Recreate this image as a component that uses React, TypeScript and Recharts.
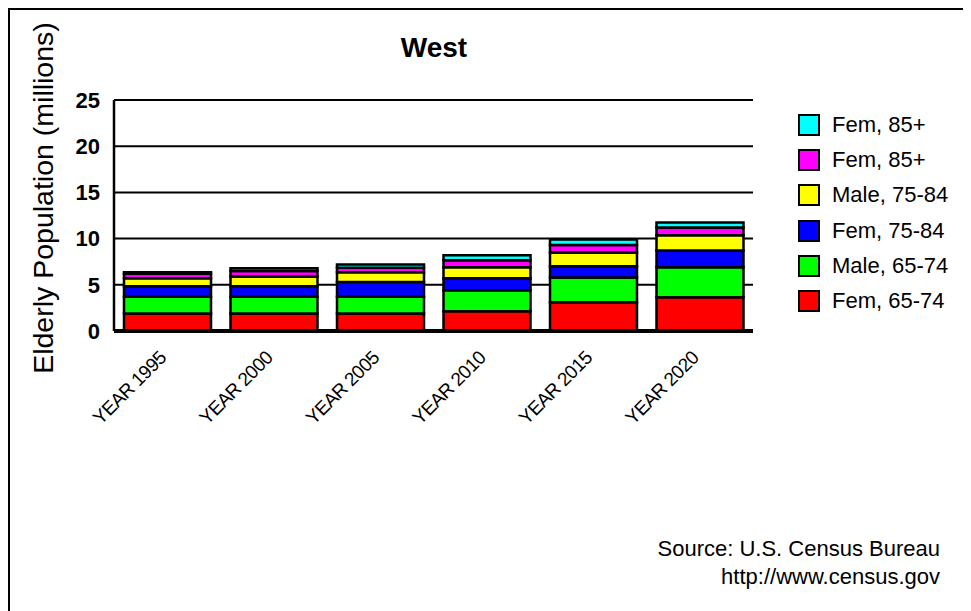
import React from "react";
import { BarChart, Bar, XAxis, YAxis, CartesianGrid } from "recharts";

const years = ["YEAR 1995", "YEAR 2000", "YEAR 2005", "YEAR 2010", "YEAR 2015", "YEAR 2020"];
const fem6574 = [1.9, 1.9, 1.9, 2.15, 3.1, 3.65];
const male6574 = [1.8, 1.8, 1.8, 2.25, 2.7, 3.25];
const fem7584 = [1.15, 1.15, 1.6, 1.3, 1.2, 1.8];
const male7584 = [0.85, 1.05, 1.05, 1.2, 1.5, 1.65];
const fem85a = [0.5, 0.6, 0.5, 0.75, 0.8, 0.85];
const fem85b = [0.15, 0.3, 0.35, 0.55, 0.6, 0.55];
const yTicks = [0, 5, 10, 15, 20, 25];

const series = [
  { key: "fem6574", name: "Fem, 65-74", color: "#ff0000", values: fem6574 },
  { key: "male6574", name: "Male, 65-74", color: "#00ff00", values: male6574 },
  { key: "fem7584", name: "Fem, 75-84", color: "#0000ff", values: fem7584 },
  { key: "male7584", name: "Male, 75-84", color: "#ffff00", values: male7584 },
  { key: "fem85a", name: "Fem, 85+", color: "#ff00ff", values: fem85a },
  { key: "fem85b", name: "Fem, 85+", color: "#00ffff", values: fem85b },
];

const data = years.map((y, i) => {
  const row: Record<string, string | number> = { year: y };
  series.forEach((s) => {
    row[s.key] = s.values[i];
  });
  return row;
});

const FONT = "'Liberation Sans', Arial, sans-serif";

const XTick = (props: any) => {
  const { x, y, payload } = props;
  const ty = y + 20;
  return (
    <text
      x={x}
      y={ty}
      transform={`rotate(-45 ${x} ${ty})`}
      textAnchor="end"
      fontFamily={FONT}
      fontSize={19}
      letterSpacing={-0.6}
      fill="#000"
    >
      {payload.value}
    </text>
  );
};

const LegendBox = () => (
  <div
    style={{
      position: "absolute",
      left: 790,
      top: 99,
      fontFamily: FONT,
      fontSize: 22,
      color: "#000",
    }}
  >
    {[...series].reverse().map((s, i) => (
      <div key={s.key + i} style={{ display: "flex", alignItems: "center", height: 35.3 }}>
        <div
          style={{
            width: 18,
            height: 18,
            background: s.color,
            border: "2px solid #000",
            marginRight: 12,
            flex: "none",
          }}
        />
        <span style={{ whiteSpace: "nowrap" }}>{s.name}</span>
      </div>
    ))}
  </div>
);

export default function App() {
  return (
    <div style={{ position: "relative", width: 963, height: 603, overflow: "hidden", background: "#fff" }}>
      <style>{"html,body{overflow:hidden}"}</style>
      <div
        style={{
          position: "absolute",
          left: 0,
          top: 0,
          width: 1200,
          height: 900,
          borderTop: "2px solid #000",
          borderLeft: "2px solid #000",
          boxSizing: "border-box",
        }}
      />
      <div style={{ position: "absolute", left: 0, top: 0 }}>
        <BarChart
          width={963}
          height={603}
          data={data}
          margin={{ top: 92, right: 218, bottom: 250, left: 0 }}
          barCategoryGap={10}
        >
          <CartesianGrid vertical={false} stroke="#000" strokeWidth={2} />
          <XAxis
            dataKey="year"
            height={30}
            interval={0}
            tickLine={false}
            axisLine={{ stroke: "#000", strokeWidth: 4 }}
            tick={<XTick />}
          />
          <YAxis
            yAxisId={0}
            width={106}
            domain={[0, 25]}
            ticks={yTicks}
            tickLine={false}
            tickSize={0}
            tickMargin={14}
            axisLine={{ stroke: "#000", strokeWidth: 2.5 }}
            tick={{ fontFamily: FONT, fontSize: 22, fontWeight: "bold", fill: "#000" }}
          />
          <YAxis
            yAxisId="right"
            orientation="right"
            width={0}
            domain={[0, 25]}
            ticks={yTicks}
            tick={false}
            tickLine={false}
            axisLine={{ stroke: "#000", strokeWidth: 2 }}
          />
          {series.map((s) => (
            <Bar
              key={s.key}
              dataKey={s.key}
              name={s.name}
              stackId="a"
              yAxisId={0}
              fill={s.color}
              stroke="#000"
              strokeWidth={2.5}
              isAnimationActive={false}
            />
          ))}
        </BarChart>
      </div>
      <LegendBox />
      <svg
        width={963}
        height={603}
        style={{ position: "absolute", left: 0, top: 0, pointerEvents: "none" }}
      >
        <text x={426} y={49} textAnchor="middle" fontFamily={FONT} fontSize={28} fontWeight="bold" fill="#000">
          West
        </text>
        <text
          x={0}
          y={0}
          transform="translate(45 190) rotate(-90)"
          textAnchor="middle"
          fontFamily={FONT}
          fontSize={28.5}
          fill="#000"
        >
          Elderly Population (millions)
        </text>
        <text x={932} y={548} textAnchor="end" fontFamily={FONT} fontSize={22} fill="#000">
          Source: U.S. Census Bureau
        </text>
        <text x={932} y={576} textAnchor="end" fontFamily={FONT} fontSize={22} fill="#000">
          http://www.census.gov
        </text>
      </svg>
    </div>
  );
}
